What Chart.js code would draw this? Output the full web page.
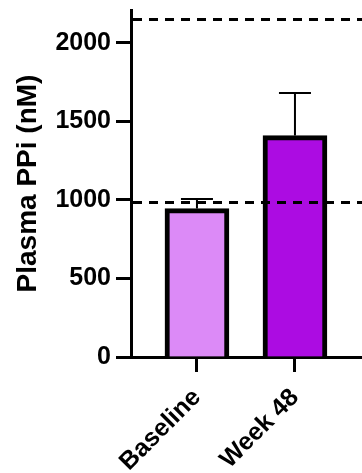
<!DOCTYPE html>
<html>
<head>
<meta charset="utf-8">
<script src="https://cdn.jsdelivr.net/npm/chart.js@4.4.0/dist/chart.umd.min.js"></script>
<style>
html,body{margin:0;padding:0;background:#fff;overflow:hidden;}
#wrap{width:362px;height:473px;}
</style>
</head>
<body>
<div id="wrap"><canvas id="c" width="362" height="473"></canvas></div>
<script>
// ---- data ----
const categories = ['Baseline', 'Week 48'];
const meanValues = [945, 1410];
const errorValues = [62, 272];
const barColors = ['#DC8AF7', '#AC0CE2'];
const yTickValues = [0, 500, 1000, 1500, 2000];
const refLines = [990, 2150];
const yTitle = 'Plasma PPi (nM)';

const FONT = "'Liberation Sans', Arial, Helvetica, sans-serif";

const errorBarPlugin = {
  id: 'errorBars',
  afterDatasetsDraw(chart) {
    const ctx = chart.ctx, xs = chart.scales.x, ys = chart.scales.y;
    ctx.save();
    ctx.strokeStyle = '#000';
    ctx.lineWidth = 2;
    meanValues.forEach((v, i) => {
      const x = xs.getPixelForValue(i);
      const yb = ys.getPixelForValue(v);
      const yt = ys.getPixelForValue(v + errorValues[i]);
      ctx.beginPath();
      ctx.moveTo(x, yb);
      ctx.lineTo(x, yt);
      ctx.moveTo(x - 16, yt);
      ctx.lineTo(x + 16, yt);
      ctx.stroke();
    });
    const area = chart.chartArea;
    ctx.lineWidth = 3;
    ctx.setLineDash([9, 7]);
    refLines.forEach(r => {
      const y = Math.round(ys.getPixelForValue(r)) + 0.5;
      ctx.beginPath();
      ctx.moveTo(area.left + 2, y);
      ctx.lineTo(area.right + 20, y);
      ctx.stroke();
    });
    ctx.restore();
  }
};

new Chart(document.getElementById('c'), {
  type: 'bar',
  data: {
    datasets: [{
      data: meanValues.map((v, i) => ({ x: i, y: v })),
      backgroundColor: barColors,
      borderColor: '#000',
      borderWidth: 5,
      borderSkipped: 'bottom',
      barThickness: 64
    }]
  },
  options: {
    responsive: false,
    animation: false,
    devicePixelRatio: 1,
    layout: { padding: { top: 10, left: 0, right: 0, bottom: 0 } },
    plugins: { legend: { display: false }, tooltip: { enabled: false } },
    scales: {
      x: {
        type: 'linear',
        offset: false,
        bounds: 'data',
        min: -0.673,
        max: 1.684,
        afterBuildTicks(scale) { scale.ticks = categories.map((c, i) => ({ value: i })); },
        afterFit(scale) { scale.height = 116; scale.paddingLeft = 0; scale.paddingRight = 0; },
        ticks: {
          callback: (v) => categories[v],
          color: '#000',
          font: { family: FONT, size: 25, weight: 'bold' },
          minRotation: 45,
          maxRotation: 45,
          padding: 11,
          autoSkip: false
        },
        grid: { display: true, drawOnChartArea: false, drawTicks: true, tickLength: 15, tickWidth: 3, tickColor: '#000', offset: false },
        border: { display: true, color: '#000', width: 3 }
      },
      y: {
        min: 0,
        max: 2210,
        afterBuildTicks(scale) { scale.ticks = yTickValues.map(v => ({ value: v })); },
        afterFit(scale) { scale.width = 131; scale.paddingTop = 0; scale.paddingBottom = 0; },
        ticks: {
          callback: (v) => String(v),
          color: '#000',
          font: { family: FONT, size: 25, weight: 'bold' },
          padding: 5
        },
        grid: { display: true, drawOnChartArea: false, drawTicks: true, tickLength: 15, tickWidth: 3, tickColor: '#000' },
        border: { display: true, color: '#000', width: 3 },
        title: {
          display: true,
          text: yTitle,
          color: '#000',
          font: { family: FONT, size: 28, weight: 'bold' },
          padding: { top: 11, bottom: 0 }
        }
      }
    }
  },
  plugins: [errorBarPlugin]
});
</script>
</body>
</html>
